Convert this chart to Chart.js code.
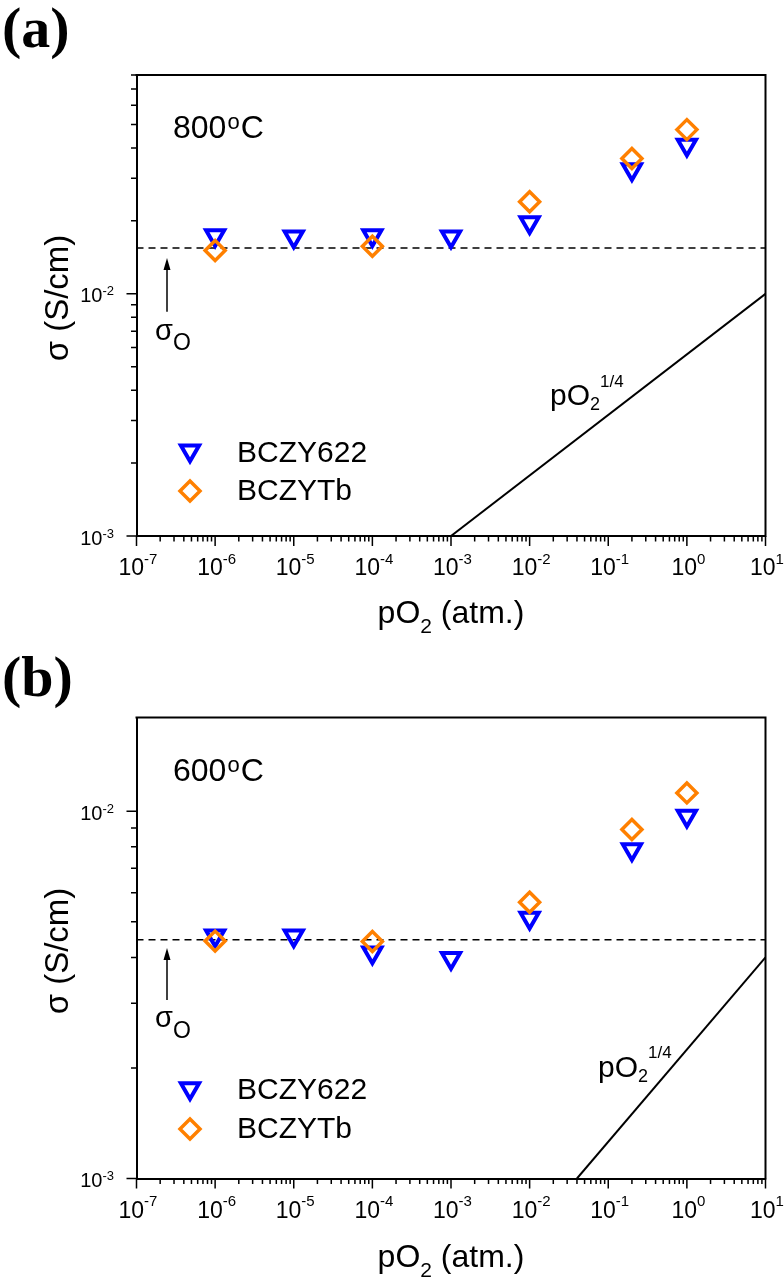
<!DOCTYPE html>
<html><head><meta charset="utf-8">
<script src="https://cdn.jsdelivr.net/npm/chart.js@4.4.1/dist/chart.umd.min.js"></script>
<style>
html,body{margin:0;padding:0;background:#fff;}
.panel{position:relative;width:784px;height:640px;}
canvas{display:block;}
</style></head><body>
<div class="panel"><canvas id="chartA" width="784" height="640"></canvas></div>
<div class="panel"><canvas id="chartB" width="784" height="640"></canvas></div>
<script>
// ---------- data ----------
const pO2Points   = [1e-6, 1e-5, 1e-4, 1e-3, 1e-2, 0.2, 1];   // atm, BCZY622
const pO2PointsTb = [1e-6, 1e-4, 1e-2, 0.2, 1];               // atm, BCZYTb

const bczy622At800 = [0.0174, 0.0172, 0.0174, 0.0172, 0.0197, 0.0326, 0.0411];
const bczytbAt800  = [0.0151, 0.0157, 0.0240, 0.0362, 0.0476];
const sigmaOAt800  = 0.01545;
const slopeXAt800  = [1e-3, 10];
const slopeYAt800  = [1e-3, 1e-2];

const bczy622At600 = [0.00458, 0.00458, 0.00412, 0.00398, 0.00512, 0.00787, 0.00971];
const bczytbAt600  = [0.00443, 0.00442, 0.00565, 0.00892, 0.01122];
const sigmaOAt600  = 0.00447;
const slopeXAt600  = [0.04, 10];
const slopeYAt600  = [1e-3, 4e-3];

const xRange = [1e-7, 10];
const yRangeA = [1e-3, 0.08];
const yRangeB = [1e-3, 0.018];
const xTickExponents = [-7, -6, -5, -4, -3, -2, -1, 0, 1];
const yTickExponents = [-3, -2];
const seriesNames = ['BCZY622', 'BCZYTb'];
const panelLabels = ['(a)', '(b)'];
const temperatures = ['800', '600'];

// ---------- styles ----------
const SANS = '"Liberation Sans", Arial, Helvetica, sans-serif';
const SERIF = '"Liberation Serif", "Times New Roman", serif';
const BLUE = '#0000FF';
const ORANGE = '#FF8000';
const TRI = {pointStyle: 'triangle', rotation: 180, radius: 10.5, borderWidth: 4};
const DIA = {pointStyle: 'rectRot', rotation: 0, radius: 10, borderWidth: 3.5};

function fontOf(p) { return (p.bold ? 'bold ' : '') + p.size + 'px ' + (p.family || SANS); }
function richWidth(ctx, parts) {
  let w = 0;
  for (const p of parts) { ctx.font = fontOf(p); w += (p.dx || 0) + ctx.measureText(p.t).width; }
  return w;
}
function drawRich(ctx, x, y, parts, align) {
  const w = richWidth(ctx, parts);
  let cx = align === 'center' ? x - w / 2 : (align === 'right' ? x - w : x);
  ctx.textAlign = 'left';
  ctx.textBaseline = 'alphabetic';
  ctx.fillStyle = '#000';
  for (const p of parts) {
    ctx.font = fontOf(p);
    cx += (p.dx || 0);
    ctx.fillText(p.t, cx, y + (p.dy || 0));
    cx += ctx.measureText(p.t).width;
  }
}
function drawMarker(ctx, opts, color, x, y) {
  ctx.save();
  ctx.strokeStyle = color;
  ctx.fillStyle = 'rgba(0,0,0,0)';
  ctx.lineWidth = opts.borderWidth;
  if (Chart.helpers && Chart.helpers.drawPoint) {
    Chart.helpers.drawPoint(ctx, opts, x, y);
  } else {
    ctx.beginPath();
    const r = opts.radius;
    if (opts.pointStyle === 'triangle') {
      ctx.moveTo(x - r * Math.sin(Math.PI / 3), y - r / 2);
      ctx.lineTo(x + r * Math.sin(Math.PI / 3), y - r / 2);
      ctx.lineTo(x, y + r);
    } else {
      ctx.moveTo(x - r, y); ctx.lineTo(x, y - r); ctx.lineTo(x + r, y); ctx.lineTo(x, y + r);
    }
    ctx.closePath();
    ctx.stroke();
  }
  ctx.restore();
}

function pts(xs, ys) { return xs.map((x, i) => ({x: x, y: ys[i]})); }

// ---------- decoration plugin ----------
function decorations(spec) {
  return {
    id: 'decor' + spec.key,
    afterDraw(chart) {
      const {ctx, chartArea: a, scales: {x, y}} = chart;
      ctx.save();
      // frame top/right
      ctx.strokeStyle = '#000';
      ctx.lineWidth = 2;
      ctx.beginPath();
      ctx.moveTo(a.left - 1, a.top); ctx.lineTo(a.right, a.top); ctx.lineTo(a.right, a.bottom + 1);
      ctx.stroke();

      // ticks
      ctx.lineWidth = 1.5;
      ctx.beginPath();
      for (const e of xTickExponents) {
        const px = x.getPixelForValue(Math.pow(10, e));
        ctx.moveTo(px, a.bottom); ctx.lineTo(px, a.bottom + 10);
        if (e < xTickExponents[xTickExponents.length - 1]) {
          for (let m = 2; m <= 9; m++) {
            const mx = x.getPixelForValue(m * Math.pow(10, e));
            ctx.moveTo(mx, a.bottom); ctx.lineTo(mx, a.bottom + 5.5);
          }
        }
      }
      const yMin = y.min, yMax = y.max;
      for (let e = Math.floor(Math.log10(yMin)); e <= Math.floor(Math.log10(yMax)); e++) {
        for (let m = 1; m <= 9; m++) {
          const v = m * Math.pow(10, e);
          if (v < yMin * 0.999 || v > yMax * 1.001) continue;
          const py = y.getPixelForValue(v);
          ctx.moveTo(a.left, py); ctx.lineTo(a.left - (m === 1 ? 10 : 5.5), py);
        }
      }
      ctx.stroke();

      // tick labels
      for (const e of xTickExponents) {
        const px = x.getPixelForValue(Math.pow(10, e));
        drawRich(ctx, px + 1.5, a.bottom + 39, [{t: '10', size: 23}, {t: String(e), size: 15, dy: -11.5}], 'center');
      }
      for (const e of yTickExponents) {
        const py = y.getPixelForValue(Math.pow(10, e));
        drawRich(ctx, 114, py + 8.5, [{t: '10', size: 20}, {t: String(e), size: 13, dy: -7}], 'right');
      }

      // axis titles
      drawRich(ctx, (a.left + a.right) / 2, spec.xTitleBase, [{t: 'pO', size: 32}, {t: '2', size: 21, dy: 10}, {t: ' (atm.)', size: 32}], 'center');
      ctx.save();
      ctx.translate(68, spec.yTitleCenter);
      ctx.rotate(-Math.PI / 2);
      drawRich(ctx, 0, 0, [{t: '\u03C3 (S/cm)', size: 33}], 'center');
      ctx.restore();

      // panel label
      drawRich(ctx, 2, spec.labelBase, [{t: spec.label, size: 58, bold: true, family: SERIF}], 'left');
      // temperature
      drawRich(ctx, 173, spec.tempBase, [{t: spec.temp, size: 32}, {t: 'o', size: 22, dy: -9, dx: 1}, {t: 'C', size: 32, dx: 1}], 'left');

      // sigma_O arrow
      ctx.strokeStyle = '#000';
      ctx.fillStyle = '#000';
      ctx.lineWidth = 1.5;
      ctx.beginPath();
      ctx.moveTo(167, spec.arrow[1]); ctx.lineTo(167, spec.arrow[0] + 8);
      ctx.stroke();
      ctx.beginPath();
      ctx.moveTo(167, spec.arrow[0]); ctx.lineTo(163.5, spec.arrow[0] + 12); ctx.lineTo(170.5, spec.arrow[0] + 12);
      ctx.closePath(); ctx.fill();
      drawRich(ctx, 155, spec.sigmaBase, [{t: '\u03C3', size: 29}, {t: 'O', size: 23, dy: spec.sigmaSub}], 'left');

      // slope label
      drawRich(ctx, spec.slopeLab[0], spec.slopeLab[1], [{t: 'pO', size: 30}, {t: '2', size: 18, dy: 5}, {t: '1/4', size: 17, dy: -18.5}], 'left');

      // legend
      drawMarker(ctx, TRI, BLUE, 190, spec.legend[0]);
      drawRich(ctx, 237, spec.legend[1], [{t: seriesNames[0], size: 30}], 'left');
      drawMarker(ctx, DIA, ORANGE, 190, spec.legend[2]);
      drawRich(ctx, 237, spec.legend[3], [{t: seriesNames[1], size: 30}], 'left');
      ctx.restore();
    }
  };
}

function makePanel(spec) {
  const area = spec.area;
  return new Chart(document.getElementById(spec.canvas), {
    type: 'scatter',
    data: {
      datasets: [
        {label: seriesNames[1], data: pts(pO2PointsTb, spec.tb), showLine: false,
         pointStyle: DIA.pointStyle, pointRotation: 0, pointRadius: DIA.radius, pointHoverRadius: DIA.radius,
         pointBorderWidth: DIA.borderWidth, pointHoverBorderWidth: DIA.borderWidth,
         pointBorderColor: ORANGE, pointBackgroundColor: 'rgba(0,0,0,0)'},
        {label: seriesNames[0], data: pts(pO2Points, spec.y622), showLine: false,
         pointStyle: TRI.pointStyle, pointRotation: 180, pointRadius: TRI.radius, pointHoverRadius: TRI.radius,
         pointBorderWidth: TRI.borderWidth, pointHoverBorderWidth: TRI.borderWidth,
         pointBorderColor: BLUE, pointBackgroundColor: 'rgba(0,0,0,0)'},
        {label: 'sigmaO', data: pts(xRange, [spec.sigmaO, spec.sigmaO]), showLine: true,
         borderColor: '#000', borderWidth: 1.5, borderDash: [7, 5], pointRadius: 0, fill: false},
        {label: 'slope', data: pts(spec.slopeX, spec.slopeY), showLine: true,
         borderColor: '#000', borderWidth: 2, pointRadius: 0, fill: false}
      ]
    },
    options: {
      responsive: false,
      maintainAspectRatio: false,
      animation: false,
      events: [],
      layout: {padding: {left: 0, top: area.top, right: 784 - area.right, bottom: 640 - area.bottom - 30}},
      plugins: {legend: {display: false}, tooltip: {enabled: false}},
      scales: {
        x: {type: 'logarithmic', min: xRange[0], max: xRange[1],
            grid: {display: false}, ticks: {display: false},
            border: {display: true, color: '#000', width: 2},
            afterFit: s => { s.height = 30; }},
        y: {type: 'logarithmic', min: spec.yRange[0], max: spec.yRange[1],
            grid: {display: false}, ticks: {display: false},
            border: {display: true, color: '#000', width: 2},
            afterFit: s => { s.width = area.left; }}
      }
    },
    plugins: [decorations(spec)]
  });
}

makePanel({
  key: 'A', canvas: 'chartA', label: panelLabels[0], temp: temperatures[0],
  area: {left: 136.5, right: 765.5, top: 75, bottom: 536},
  yRange: yRangeA, y622: bczy622At800, tb: bczytbAt800, sigmaO: sigmaOAt800,
  slopeX: slopeXAt800, slopeY: slopeYAt800,
  xTitleBase: 623, yTitleCenter: 298, labelBase: 46.5, tempBase: 137.7,
  arrow: [258, 311.7], sigmaBase: 340, sigmaSub: 10,
  slopeLab: [550, 405], legend: [450.7, 461.7, 491, 500]
});
makePanel({
  key: 'B', canvas: 'chartB', label: panelLabels[1], temp: temperatures[1],
  area: {left: 136.5, right: 765.5, top: 77.5, bottom: 538.5},
  yRange: yRangeB, y622: bczy622At600, tb: bczytbAt600, sigmaO: sigmaOAt600,
  slopeX: slopeXAt600, slopeY: slopeYAt600,
  xTitleBase: 626.5, yTitleCenter: 311, labelBase: 55.5, tempBase: 140.7,
  arrow: [308, 360], sigmaBase: 386.7, sigmaSub: 11.3,
  slopeLab: [598, 436.7], legend: [448.4, 459, 489, 498]
});
</script>
</body></html>
